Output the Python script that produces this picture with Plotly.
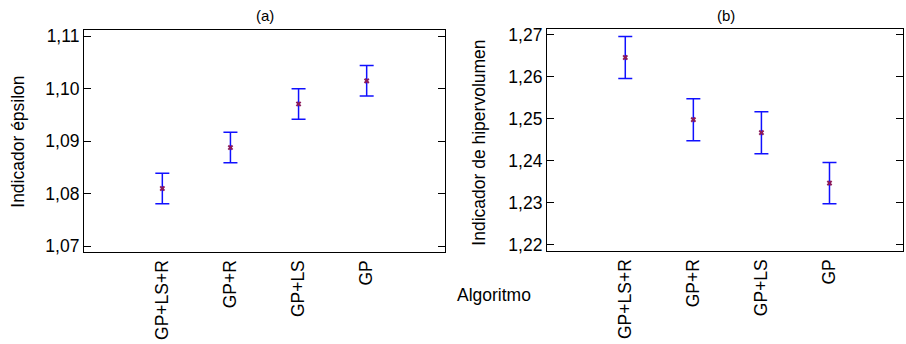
import plotly.graph_objects as go

# Algorithms compared on both quality indicators
algoritmos = ["GP+LS+R", "GP+R", "GP+LS", "GP"]

# (a) epsilon indicator: means and interval half-widths
epsilon_media = [1.0810, 1.0888, 1.0971, 1.1015]
epsilon_error = [0.0029, 0.0029, 0.0029, 0.0029]

# (b) hypervolume indicator: means and interval half-widths
hiper_media = [1.2646, 1.2498, 1.2467, 1.2347]
hiper_error = [0.0050, 0.0050, 0.0050, 0.0049]

FONT = "Liberation Sans, Arial, sans-serif"
W, H = 906, 344

fig = go.Figure()

fig.add_trace(go.Scatter(
    x=algoritmos, y=epsilon_media, mode="markers",
    marker=dict(symbol="x", size=5, color="#8b1a5a"),
    error_y=dict(type="data", array=epsilon_error, color="#1010ff", thickness=1.5, width=7),
    xaxis="x", yaxis="y", showlegend=False,
))
fig.add_trace(go.Scatter(
    x=algoritmos, y=hiper_media, mode="markers",
    marker=dict(symbol="x", size=5, color="#8b1a5a"),
    error_y=dict(type="data", array=hiper_error, color="#1010ff", thickness=1.5, width=7),
    xaxis="x2", yaxis="y2", showlegend=False,
))

def px_x(p):
    return p / W

def px_y(p):
    return 1 - p / H

common_x = dict(
    type="category", showline=True, linecolor="black", linewidth=1.2, mirror=True,
    ticks="", showgrid=False, zeroline=False, tickangle=-90,
    tickfont=dict(family=FONT, size=17.5, color="black"), range=[-1.15, 4.15],
)
common_y = dict(
    showline=True, linecolor="black", linewidth=1.2, mirror="ticks",
    ticks="inside", ticklen=7, tickcolor="black", showgrid=False, zeroline=False,
    tickformat=".2f", tickfont=dict(family=FONT, size=17.5, color="black"),
)

def label(text, x, y, size, angle=0):
    return dict(text=text, x=px_x(x), y=px_y(y), xref="paper", yref="paper",
                xanchor="center", yanchor="middle", showarrow=False,
                textangle=angle, font=dict(family=FONT, size=size, color="black"))

fig.update_layout(
    width=W, height=H,
    margin=dict(l=0, r=0, t=0, b=0),
    paper_bgcolor="white", plot_bgcolor="white",
    separators=", ",
    font=dict(family=FONT, color="black"),
    xaxis=dict(common_x, domain=[px_x(84), px_x(445)], anchor="y"),
    yaxis=dict(common_y, domain=[px_y(254), px_y(26.5)], anchor="x",
               range=[1.0689, 1.1112], dtick=0.01, tick0=1.07),
    xaxis2=dict(common_x, domain=[px_x(547), px_x(903)], anchor="y2", range=[-1.15, 4.08]),
    yaxis2=dict(common_y, domain=[px_y(253), px_y(25.5)], anchor="x2",
                range=[1.2185, 1.2714], dtick=0.01, tick0=1.22),
    annotations=[
        label("(a)", 265, 12, 15),
        label("(b)", 726, 12, 15),
        label("Indicador épsilon", 18, 141, 17.5, -90),
        label("Indicador de hipervolumen", 479, 142, 17.5, -90),
        label("Algoritmo", 494, 298, 17.5),
    ],
)

fig.write_html("out.html")
